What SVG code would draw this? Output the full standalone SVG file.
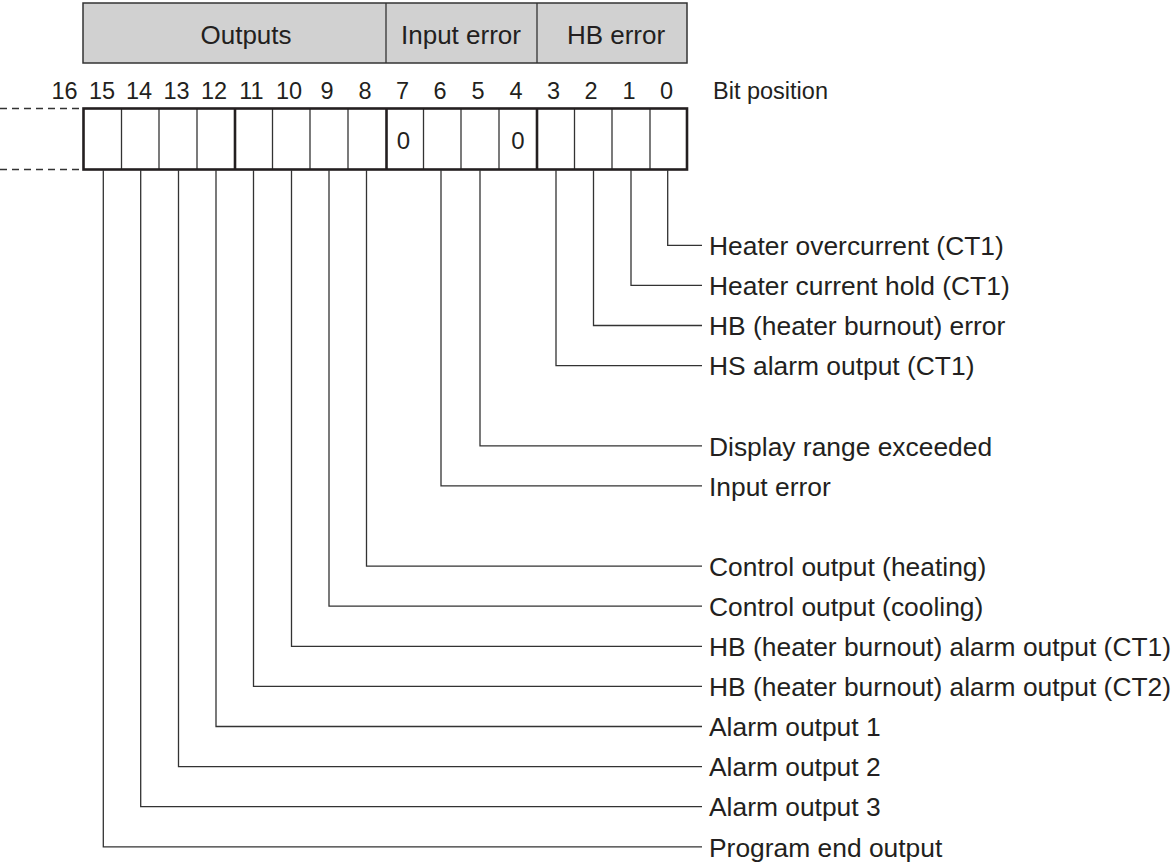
<svg xmlns="http://www.w3.org/2000/svg" width="1176" height="863" viewBox="0 0 1176 863">
<style>
text{font-family:"Liberation Sans",Arial,sans-serif;fill:#231f20}
.hd{font-size:26px;text-anchor:middle}
.num{font-size:23.5px;text-anchor:middle}
.bp{font-size:23.5px}
.zero{font-size:24px;text-anchor:middle}
.lbl{font-size:26.4px}
.hdr{fill:#d1d1d1;stroke:#333;stroke-width:1.5}
.thin{stroke:#333;stroke-width:1.3;fill:none}
.thick{stroke:#231f20;stroke-width:2.6;fill:none}
.dash{stroke:#333;stroke-width:1.5;stroke-dasharray:7 5}
.conn{stroke:#333;stroke-width:1.3;fill:none}
</style>
<rect width="1176" height="863" fill="#fff"/>
<g id="header">
<rect class="hdr" x="83" y="3" width="604" height="60"/>
<line class="thin" x1="386" y1="3" x2="386" y2="63"/>
<line class="thin" x1="537" y1="3" x2="537" y2="63"/>
<text x="246" y="44" class="hd">Outputs</text>
<text x="461" y="44" class="hd">Input error</text>
<text x="616" y="44" class="hd">HB error</text>
</g>
<g id="bitnumbers">
<text class="num" x="64.5" y="98.5">16</text>
<text class="num" x="102" y="98.5">15</text>
<text class="num" x="139" y="98.5">14</text>
<text class="num" x="176.5" y="98.5">13</text>
<text class="num" x="214" y="98.5">12</text>
<text class="num" x="251.5" y="98.5">11</text>
<text class="num" x="289" y="98.5">10</text>
<text class="num" x="327" y="98.5">9</text>
<text class="num" x="365" y="98.5">8</text>
<text class="num" x="402.5" y="98.5">7</text>
<text class="num" x="440" y="98.5">6</text>
<text class="num" x="478" y="98.5">5</text>
<text class="num" x="516" y="98.5">4</text>
<text class="num" x="553.5" y="98.5">3</text>
<text class="num" x="591" y="98.5">2</text>
<text class="num" x="629" y="98.5">1</text>
<text class="num" x="666.5" y="98.5">0</text>
<text class="bp" x="713" y="98.5">Bit position</text>
</g>
<g id="register">
<line class="dash" x1="0" y1="108.5" x2="83" y2="108.5"/>
<line class="dash" x1="0" y1="169.5" x2="83" y2="169.5"/>
<line class="thin" x1="121.5" y1="108.5" x2="121.5" y2="169.5"/>
<line class="thin" x1="159" y1="108.5" x2="159" y2="169.5"/>
<line class="thin" x1="197" y1="108.5" x2="197" y2="169.5"/>
<line class="thin" x1="272.5" y1="108.5" x2="272.5" y2="169.5"/>
<line class="thin" x1="310" y1="108.5" x2="310" y2="169.5"/>
<line class="thin" x1="348" y1="108.5" x2="348" y2="169.5"/>
<line class="thin" x1="423.5" y1="108.5" x2="423.5" y2="169.5"/>
<line class="thin" x1="461" y1="108.5" x2="461" y2="169.5"/>
<line class="thin" x1="499" y1="108.5" x2="499" y2="169.5"/>
<line class="thin" x1="574.5" y1="108.5" x2="574.5" y2="169.5"/>
<line class="thin" x1="612" y1="108.5" x2="612" y2="169.5"/>
<line class="thin" x1="650" y1="108.5" x2="650" y2="169.5"/>
<line class="thick" x1="235" y1="108.5" x2="235" y2="169.5"/>
<line class="thick" x1="386.5" y1="108.5" x2="386.5" y2="169.5"/>
<line class="thick" x1="537" y1="108.5" x2="537" y2="169.5"/>
<rect class="thick" x="83.5" y="108.5" width="603.5" height="61"/>
<text class="zero" x="403.5" y="149">0</text>
<text class="zero" x="518" y="149">0</text>
</g>
<g id="connectors">
<polyline class="conn" points="667.7,170 667.7,245.3 702,245.3"/>
<polyline class="conn" points="631,170 631,285.4 702,285.4"/>
<polyline class="conn" points="593.5,170 593.5,325.5 702,325.5"/>
<polyline class="conn" points="556,170 556,365.6 702,365.6"/>
<polyline class="conn" points="480,170 480,445.8 702,445.8"/>
<polyline class="conn" points="441,170 441,485.9 702,485.9"/>
<polyline class="conn" points="366.5,170 366.5,566.1 702,566.1"/>
<polyline class="conn" points="329,170 329,606.2 702,606.2"/>
<polyline class="conn" points="291.5,170 291.5,646.3 702,646.3"/>
<polyline class="conn" points="253.5,170 253.5,686.4 702,686.4"/>
<polyline class="conn" points="216,170 216,726.5 702,726.5"/>
<polyline class="conn" points="178.5,170 178.5,766.6 702,766.6"/>
<polyline class="conn" points="140.7,170 140.7,806.7 702,806.7"/>
<polyline class="conn" points="103.3,170 103.3,846.8 702,846.8"/>
</g>
<g id="labels">
<text class="lbl" x="709" y="255">Heater overcurrent (CT1)</text>
<text class="lbl" x="709" y="295.1">Heater current hold (CT1)</text>
<text class="lbl" x="709" y="335.2">HB (heater burnout) error</text>
<text class="lbl" x="709" y="375.3">HS alarm output (CT1)</text>
<text class="lbl" x="709" y="455.5">Display range exceeded</text>
<text class="lbl" x="709" y="495.6">Input error</text>
<text class="lbl" x="709" y="575.8">Control output (heating)</text>
<text class="lbl" x="709" y="615.9">Control output (cooling)</text>
<text class="lbl" x="709" y="656">HB (heater burnout) alarm output (CT1)</text>
<text class="lbl" x="709" y="696.1">HB (heater burnout) alarm output (CT2)</text>
<text class="lbl" x="709" y="736.2">Alarm output 1</text>
<text class="lbl" x="709" y="776.3">Alarm output 2</text>
<text class="lbl" x="709" y="816.4">Alarm output 3</text>
<text class="lbl" x="709" y="856.5">Program end output</text>
</g>
</svg>
